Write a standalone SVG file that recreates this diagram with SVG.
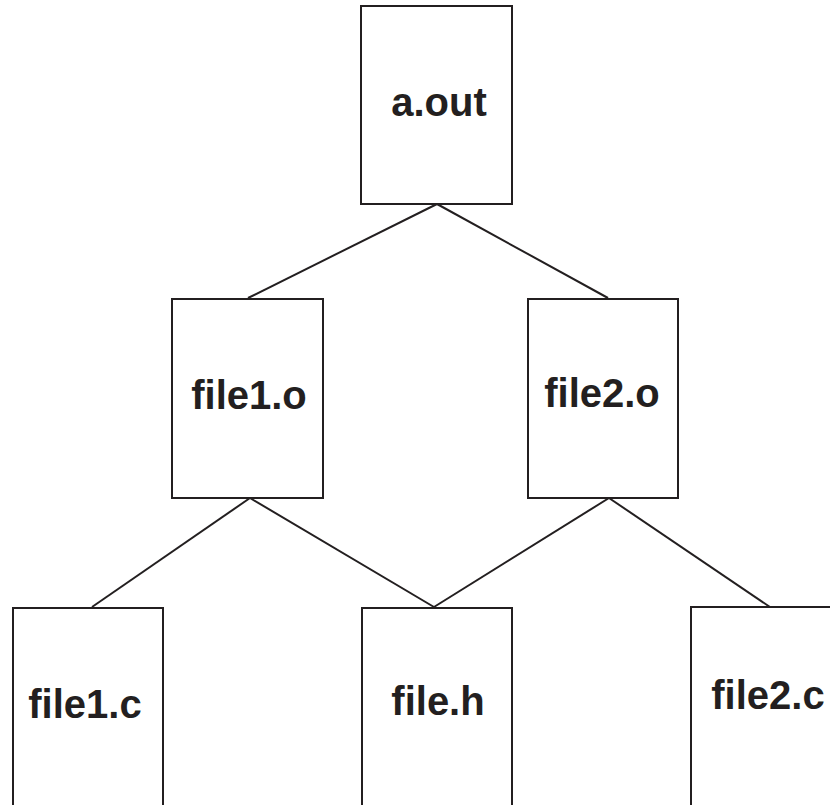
<svg xmlns="http://www.w3.org/2000/svg" width="830" height="805" viewBox="0 0 830 805">
<style>
.box{fill:#fff;stroke:#231f20;stroke-width:2}
.lbl{font-family:"Liberation Sans",Arial,sans-serif;font-weight:bold;font-size:40px;fill:#231f20;text-anchor:middle}
.edge{stroke:#231f20;stroke-width:2;fill:none}
</style>
<rect width="830" height="805" fill="#fff"/>
<g id="connectors">
<line class="edge" x1="437" y1="204" x2="248" y2="298"/>
<line class="edge" x1="437" y1="204" x2="608" y2="298"/>
<line class="edge" x1="250" y1="498" x2="92" y2="607"/>
<line class="edge" x1="250" y1="498" x2="434" y2="607"/>
<line class="edge" x1="609" y1="498" x2="434" y2="607"/>
<line class="edge" x1="609" y1="498" x2="770" y2="607"/>
</g>
<g id="a_out"><rect class="box" x="361" y="6" width="151" height="198"/><text class="lbl" x="439" y="116">a.out</text></g>
<g id="file1_o"><rect class="box" x="172" y="299" width="151" height="199"/><text class="lbl" x="249" y="409">file1.o</text></g>
<g id="file2_o"><rect class="box" x="528" y="299" width="150" height="199"/><text class="lbl" x="602" y="407">file2.o</text></g>
<g id="file1_c"><rect class="box" x="13" y="608" width="150" height="210"/><text class="lbl" x="85" y="718">file1.c</text></g>
<g id="file_h"><rect class="box" x="362" y="608" width="150" height="210"/><text class="lbl" x="438" y="715">file.h</text></g>
<g id="file2_c"><rect class="box" x="691" y="607" width="150" height="210"/><text class="lbl" x="768" y="709">file2.c</text></g>
</svg>
